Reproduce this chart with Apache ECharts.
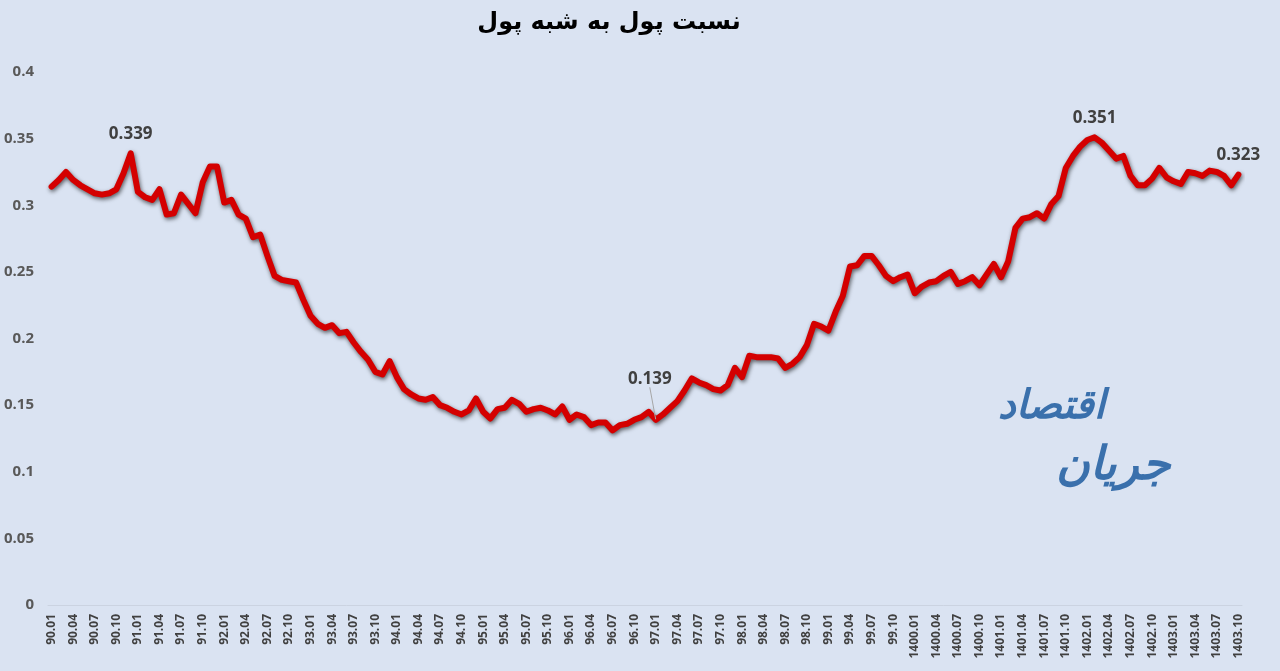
<!DOCTYPE html>
<html>
<head>
<meta charset="utf-8">
<script src="https://cdn.jsdelivr.net/npm/echarts@6/dist/echarts.min.js"></script>
<style>
html,body{margin:0;padding:0;background:#DAE3F2;}
#c{width:1280px;height:671px;}
</style>
</head>
<body>
<div id="c"></div>
<script>
// Years (Persian calendar) and months
const years = ['90','91','92','93','94','95','96','97','98','99','1400','1401','1402','1403'];
const months = ['01','02','03','04','05','06','07','08','09','10','11','12'];
const lastMonthCount = 10; // data runs to 1403.10

// Monthly ratio values per year
const v90   = [0.314,0.319,0.325,0.319,0.315,0.312,0.309,0.308,0.309,0.312,0.324,0.339];
const v91   = [0.310,0.306,0.304,0.312,0.293,0.294,0.308,0.301,0.294,0.317,0.329,0.329];
const v92   = [0.302,0.304,0.293,0.290,0.276,0.278,0.262,0.247,0.244,0.243,0.242,0.229];
const v93   = [0.217,0.211,0.208,0.210,0.204,0.205,0.197,0.190,0.184,0.175,0.173,0.183];
const v94   = [0.171,0.162,0.158,0.155,0.154,0.156,0.150,0.148,0.145,0.143,0.146,0.155];
const v95   = [0.145,0.140,0.147,0.148,0.154,0.151,0.145,0.147,0.148,0.146,0.143,0.149];
const v96   = [0.139,0.143,0.141,0.135,0.137,0.137,0.131,0.135,0.136,0.139,0.141,0.145];
const v97   = [0.139,0.143,0.148,0.153,0.161,0.170,0.167,0.165,0.162,0.161,0.165,0.178];
const v98   = [0.171,0.187,0.186,0.186,0.186,0.185,0.178,0.181,0.186,0.195,0.211,0.209];
const v99   = [0.206,0.220,0.232,0.254,0.255,0.262,0.262,0.255,0.247,0.243,0.246,0.248];
const v1400 = [0.234,0.239,0.242,0.243,0.247,0.250,0.241,0.243,0.246,0.240,0.248,0.256];
const v1401 = [0.246,0.258,0.283,0.290,0.291,0.294,0.290,0.301,0.307,0.328,0.337,0.344];
const v1402 = [0.349,0.351,0.347,0.341,0.335,0.337,0.322,0.315,0.315,0.320,0.328,0.321];
const v1403 = [0.318,0.316,0.325,0.324,0.322,0.326,0.325,0.322,0.315,0.323];

// Indices of points carrying a value label; the one with a leader line
const labelIdx = [11, 84, 145, 165];
const leaderIdx = 84;

const values = [].concat(v90,v91,v92,v93,v94,v95,v96,v97,v98,v99,v1400,v1401,v1402,v1403);
const categories = [];
years.forEach((y, yi) => {
  const n = (yi === years.length - 1) ? lastMonthCount : 12;
  for (let m = 0; m < n; m++) categories.push(y + '.' + months[m]);
});

const seriesData = values.map((v, i) => {
  if (labelIdx.indexOf(i) >= 0) {
    const item = { value: v, label: { show: true } };
    if (i === leaderIdx) item.labelLine = { show: true };
    return item;
  }
  return v;
});

const chart = echarts.init(document.getElementById('c'));
chart.setOption({
  backgroundColor: '#DAE3F2',
  animation: false,
  title: {
    text: 'نسبت پول به شبه پول',
    left: 604,
    textAlign: 'center',
    top: 6,
    textStyle: { fontFamily: 'DejaVu Sans', fontWeight: 'bold', fontSize: 24, color: '#000' }
  },
  grid: { left: 48, right: 38, top: 72, bottom: 66 },
  xAxis: {
    type: 'category',
    data: categories,
    boundaryGap: true,
    axisLine: { show: true, lineStyle: { color: '#CBD3E1', width: 1 } },
    axisTick: { show: false },
    axisLabel: {
      interval: 2,
      rotate: 90,
      margin: 9,
      fontFamily: 'Open Sans',
      fontSize: 12,
      fontWeight: 'bold',
      color: '#404040'
    },
    splitLine: { show: false }
  },
  yAxis: {
    type: 'value',
    min: 0,
    max: 0.4,
    interval: 0.05,
    axisLine: { show: false },
    axisTick: { show: false },
    splitLine: { show: false },
    axisLabel: {
      margin: 14,
      fontFamily: 'Open Sans',
      fontSize: 15,
      fontWeight: 'bold',
      color: '#595959'
    }
  },
  graphic: [
    {
      type: 'text', left: 998, top: 388,
      style: { text: 'اقتصاد', font: 'bold italic 40px "DejaVu Sans"', fill: '#3A70AC' }
    },
    {
      type: 'text', left: 1056, top: 444,
      style: { text: 'جریان', font: 'bold italic 46px "DejaVu Sans"', fill: '#3A70AC' }
    }
  ],
  series: [{
    type: 'line',
    data: seriesData,
    symbol: 'circle',
    symbolSize: 1,
    showSymbol: true,
    showAllSymbol: true,
    itemStyle: { color: 'rgba(0,0,0,0)' },
    smooth: false,
    lineStyle: {
      color: '#D40000',
      width: 6,
      cap: 'round',
      join: 'round',
      shadowColor: 'rgba(0,0,0,0.6)',
      shadowBlur: 4,
      shadowOffsetX: 1,
      shadowOffsetY: 2
    },
    label: {
      show: false,
      position: 'top',
      distance: 10,
      fontFamily: 'Open Sans',
      fontSize: 17,
      fontWeight: 'bold',
      color: '#404040',
      formatter: p => p.value.toFixed(3)
    },
    labelLine: { show: false, lineStyle: { color: '#A6A6A6', width: 1 } },
    labelLayout: function (params) {
      if (params.dataIndex === leaderIdx) {
        return { dx: -6, dy: -22 };
      }
      return {};
    }
  }]
});
</script>
</body>
</html>
